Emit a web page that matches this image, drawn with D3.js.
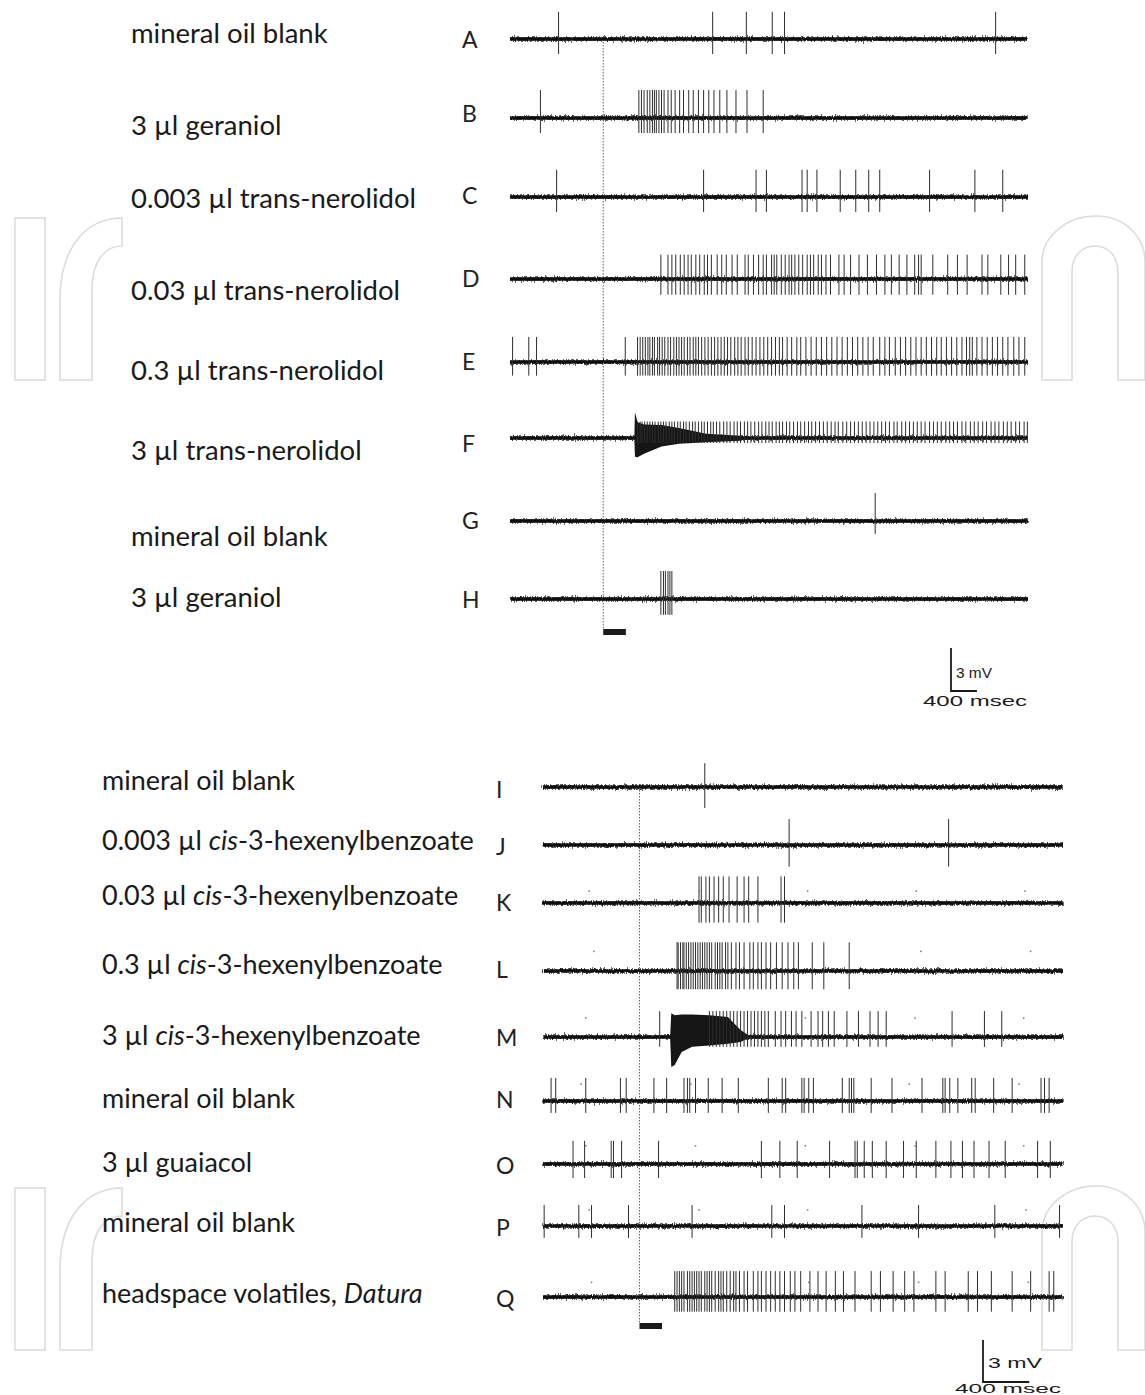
<!DOCTYPE html>
<html><head><meta charset="utf-8">
<script src="https://cdn.jsdelivr.net/npm/d3@7"></script>
<style>body{margin:0;background:#fff}svg{display:block}</style>
</head><body>
<svg id="chart" width="1145" height="1395"></svg>
<script>
// ---------------- DATA ----------------
const topIds = ["A","B","C","D","E","F","G","H"];
const topLabels = ["mineral oil blank","3 µl geraniol","0.003 µl trans-nerolidol","0.03 µl trans-nerolidol",
  "0.3 µl trans-nerolidol","3 µl trans-nerolidol","mineral oil blank","3 µl geraniol"];
const bottomIds = ["I","J","K","L","M","N","O","P","Q"];
const bottomLabels = ["mineral oil blank","0.003 µl *cis*-3-hexenylbenzoate","0.03 µl *cis*-3-hexenylbenzoate",
  "0.3 µl *cis*-3-hexenylbenzoate","3 µl *cis*-3-hexenylbenzoate","mineral oil blank","3 µl guaiacol",
  "mineral oil blank","headspace volatiles, *Datura*"];

const topDuration = 8.0;      // s shown in upper panel
const bottomDuration = 4.5;   // s shown in lower panel
const stimTop = [1.44, 1.79];
const stimBottom = [0.835, 1.03];
const scaleBarMv = 3;
const scaleBarMs = 400;

// spike times (s)
const spikesA = [0.75,3.13,3.65,4.05,4.24,7.50];
const spikesB = [0.47,1.99,2.03,2.07,2.12,2.16,2.20,2.23,2.26,2.30,2.34,2.38,2.44,2.49,2.55,2.62,2.68,2.76,2.83,2.91,2.99,3.07,3.15,3.24,3.35,3.49,3.66,3.91];
const spikesC = [0.72,2.99,3.80,3.96,4.51,4.59,4.74,5.10,5.34,5.54,5.71,6.48,7.18,7.61];
const spikesD = [2.33,2.44,2.50,2.56,2.63,2.69,2.75,2.80,2.87,2.93,3.00,3.05,3.11,3.20,3.27,3.34,3.43,3.51,3.63,3.68,3.76,3.84,3.91,3.96,4.04,4.08,4.12,4.19,4.25,4.31,4.35,4.40,4.46,4.52,4.59,4.64,4.69,4.76,4.81,4.88,4.95,5.08,5.16,5.26,5.39,5.52,5.66,5.79,5.89,6.01,6.13,6.25,6.31,6.35,6.53,6.76,6.91,7.06,7.29,7.38,7.58,7.70,7.81,7.95];
const spikesE = [0.04,0.29,0.41,1.78,1.97,2.01,2.05,2.09,2.13,2.16,2.20,2.23,2.28,2.31,2.35,2.39,2.44,2.48,2.53,2.57,2.61,2.65,2.69,2.74,2.78,2.83,2.87,2.91,2.96,3.01,3.06,3.11,3.16,3.21,3.26,3.31,3.36,3.41,3.47,3.52,3.57,3.63,3.68,3.74,3.80,3.86,3.92,3.98,4.04,4.10,4.16,4.21,4.28,4.35,4.43,4.49,4.57,4.65,4.73,4.81,4.89,4.97,5.05,5.13,5.21,5.29,5.37,5.45,5.53,5.61,5.71,5.79,5.86,5.95,6.03,6.11,6.19,6.27,6.35,6.43,6.51,6.59,6.66,6.74,6.82,6.90,6.98,7.05,7.10,7.14,7.21,7.29,7.37,7.45,7.53,7.61,7.69,7.78,7.86,7.95];
const spikesF = [1.97,2.01,2.04,2.08,2.12,2.16,2.20,2.24,2.29,2.33,2.37,2.41,2.46,2.50,2.54,2.59,2.63,2.68,2.72,2.77,2.82,2.86,2.91,2.96,3.00,3.05,3.10,3.14,3.19,3.24,3.30,3.35,3.40,3.46,3.51,3.56,3.62,3.67,3.72,3.78,3.84,3.89,3.95,4.00,4.05,4.11,4.16,4.21,4.27,4.32,4.38,4.44,4.49,4.55,4.61,4.66,4.72,4.78,4.84,4.90,4.96,5.02,5.07,5.14,5.20,5.26,5.32,5.38,5.44,5.50,5.56,5.62,5.68,5.74,5.80,5.86,5.93,5.98,6.05,6.11,6.17,6.23,6.29,6.35,6.41,6.48,6.54,6.60,6.66,6.73,6.79,6.85,6.91,6.98,7.04,7.11,7.17,7.23,7.30,7.36,7.43,7.49,7.55,7.62,7.68,7.74,7.81,7.87,7.94,7.99];
const spikesG = [5.64];
const spikesH = [2.33,2.37,2.40,2.44,2.47,2.50];

const spikesI = [1.40];
const spikesJ = [2.13,3.51];
const spikesK = [1.35,1.37,1.41,1.44,1.48,1.52,1.56,1.61,1.68,1.74,1.78,1.86,2.06,2.09];
const spikesL = [1.16,1.17,1.19,1.21,1.22,1.24,1.26,1.28,1.30,1.32,1.34,1.36,1.38,1.40,1.42,1.44,1.46,1.49,1.51,1.53,1.55,1.58,1.60,1.63,1.67,1.70,1.74,1.79,1.82,1.86,1.89,1.93,1.97,2.02,2.07,2.12,2.17,2.21,2.33,2.43,2.65];
const spikesM = [1.01,1.44,1.47,1.50,1.53,1.56,1.59,1.62,1.65,1.68,1.71,1.74,1.77,1.80,1.83,1.86,1.89,1.92,1.95,2.01,2.06,2.10,2.15,2.19,2.24,2.32,2.38,2.42,2.47,2.52,2.63,2.73,2.83,2.90,2.97,3.54,3.82,3.97];
const spikesN = [0.07,0.11,0.37,0.67,0.72,0.96,1.07,1.22,1.25,1.27,1.32,1.43,1.55,1.69,1.95,2.07,2.10,2.24,2.26,2.30,2.34,2.59,2.65,2.67,2.69,2.84,3.02,3.28,3.46,3.48,3.52,3.59,3.71,3.74,3.90,4.06,4.31,4.34,4.38];
const spikesO = [0.26,0.36,0.59,0.61,0.68,1.00,1.89,2.05,2.20,2.48,2.70,2.72,2.78,2.85,2.97,3.12,3.23,3.40,3.53,3.63,3.73,3.86,4.00,4.28,4.39];
const spikesP = [0.01,0.31,0.42,0.74,1.29,1.98,2.09,2.76,3.25,3.91,4.47];
const spikesQ = [1.14,1.16,1.18,1.20,1.22,1.25,1.27,1.29,1.31,1.33,1.35,1.37,1.40,1.42,1.44,1.46,1.49,1.52,1.54,1.56,1.59,1.62,1.65,1.67,1.70,1.74,1.77,1.82,1.86,1.89,1.93,1.97,2.01,2.05,2.09,2.14,2.18,2.23,2.31,2.38,2.45,2.53,2.60,2.70,2.84,2.92,3.03,3.13,3.21,3.40,3.48,3.68,3.76,3.88,4.06,4.22,4.38,4.42];

// typical spike amplitude (mV) above / below baseline, per trace
const ampUpTop   = [1.90,1.95,1.90,1.70,1.75,1.15,1.95,1.95];
const ampDownTop = [1.05,1.05,1.05,1.10,0.95,0.35,0.90,1.10];
const ampUpBottom   = [1.70,1.85,1.90,2.05,1.85,1.65,1.65,1.50,1.85];
const ampDownBottom = [1.50,1.55,1.40,1.30,0.70,0.85,1.00,0.85,1.05];

// dense onset envelopes [t (s), up (mV), down (mV)]
const envelopeF = [[1.92,0,0],[1.93,1.8,1.3],[1.97,1.1,1.35],[2.07,0.95,1.1],[2.34,0.9,0.6],[2.61,0.7,0.4],[3.03,0.3,0.3],[3.56,0.15,0.2],[3.6,0,0]];
const envelopeM = [[1.10,0,0],[1.11,1.7,2.15],[1.14,1.55,2.0],[1.20,1.6,1.07],[1.29,1.6,0.7],[1.44,1.55,0.6],[1.60,1.43,0.48],[1.71,0.5,0.36],[1.80,0,0]];

// small timing dots in lower panel [times], height (mV)
const dotsK = [0.40,1.35,2.29,3.23,4.17];
const dotsL = [0.44,3.27,4.22];
const dotsM = [0.37,2.27,3.22,4.16];
const dotsN = [0.33,1.28,3.17,4.12];
const dotsO = [0.37,1.32,2.27,3.22,4.16];
const dotsP = [0.40,1.35,2.29,3.25,4.18];
const dotsQ = [0.42,2.30,3.25,4.20];
const dotHeights = [0,0,0.85,1.4,1.35,1.2,1.3,1.15,1.05];

// ---------------- LAYOUT ----------------
const svg = d3.select("#chart");
const labelFont = "Lato, 'Open Sans', sans-serif";
const ink = "#1a1a1a";

// texture filters for the recording noise on the baselines
const defs = svg.append("defs");
function jitterFilter(id, freq, scale, seed) {
  const f = defs.append("filter").attr("id", id).attr("filterUnits","userSpaceOnUse")
    .attr("x",0).attr("y",0).attr("width",1145).attr("height",1395);
  f.append("feTurbulence").attr("type","fractalNoise").attr("baseFrequency", freq)
    .attr("numOctaves",2).attr("seed",seed).attr("result","t");
  f.append("feDisplacementMap").attr("in","SourceGraphic").attr("in2","t")
    .attr("scale",scale).attr("xChannelSelector","R").attr("yChannelSelector","G");
}
jitterFilter("jitterWide", "1.1 0.05", 7, 7);
jitterFilter("jitterCore", "0.8 0.05", 3, 3);

const topSpikes = [spikesA,spikesB,spikesC,spikesD,spikesE,spikesF,spikesG,spikesH];
const bottomSpikes = [spikesI,spikesJ,spikesK,spikesL,spikesM,spikesN,spikesO,spikesP,spikesQ];
const bottomDots = [[],[],dotsK,dotsL,dotsM,dotsN,dotsO,dotsP,dotsQ];

const panels = [
  {ids: topIds, labels: topLabels, spikes: topSpikes, up: ampUpTop, down: ampDownTop,
   env: {F: envelopeF}, dots: null, dotH: null, labelSize: 27.5,
   x: d3.scaleLinear().domain([0, topDuration]).range([510, 1028]),
   mv: d3.scaleLinear().domain([0, scaleBarMv]).range([0, 43]),
   rowY: d3.scaleOrdinal().domain(topIds).range([39,118,197,279,362,438,521,599]),
   labelY: [43,135,208,300,380,460,546,607], labelX: 131,
   letterY: [48,122,204,287,370,452,529,608], letterX: 462,
   stim: stimTop, stimY: 629, bar: {x: 951, y: 691, mvText: [956,678,36,15], msText: [923,706,104,14]}},
  {ids: bottomIds, labels: bottomLabels, spikes: bottomSpikes, up: ampUpBottom, down: ampDownBottom,
   env: {M: envelopeM}, dots: bottomDots, dotH: dotHeights, labelSize: 27,
   x: d3.scaleLinear().domain([0, bottomDuration]).range([543, 1063]),
   mv: d3.scaleLinear().domain([0, scaleBarMv]).range([0, 42]),
   rowY: d3.scaleOrdinal().domain(bottomIds).range([787,845,903,971,1037,1101,1164,1226,1297]),
   labelY: [790,850,905,974,1045,1108,1172,1232,1303], labelX: 102,
   letterY: [798,855,911,978,1046,1108,1174,1236,1307], letterX: 496,
   stim: stimBottom, stimY: 1323, bar: {x: 983, y: 1382, mvText: [988,1368,54,15], msText: [955,1392.5,106,12]}}
];

// watermark (faint outlines)
const wm = svg.append("g").attr("fill","none").attr("stroke","#dcdcdc").attr("stroke-width",1.6);
[0, 970].forEach(dy => {
  const g = wm.append("g").attr("transform", `translate(0,${dy})`);
  g.append("rect").attr("x",15).attr("y",218).attr("width",30).attr("height",162);
  g.append("path").attr("d","M60,380 L60,300 C60,245 88,218 122,218 L122,246 C104,246 92,262 92,290 L92,380 Z");
  g.append("path").attr("d","M1042,380 L1042,262 C1042,235 1068,216 1096,216 C1124,216 1145,236 1145,262 L1145,380 L1118,380 L1118,272 C1118,256 1108,246 1095,246 C1082,246 1072,256 1072,272 L1072,380 Z");
});

panels.forEach(p => {
  const g = svg.append("g");
  const x = p.x;
  const xEnd = x(x.domain()[1]);

  // dotted stimulus onset line
  g.append("line")
    .attr("x1", x(p.stim[0])).attr("x2", x(p.stim[0]))
    .attr("y1", p.rowY(p.ids[0])).attr("y2", p.stimY)
    .attr("stroke","#666").attr("stroke-width",1).attr("stroke-dasharray","1.5,1.5");

  // stimulus bar
  g.append("rect")
    .attr("x", x(p.stim[0])).attr("width", x(p.stim[1]) - x(p.stim[0]))
    .attr("y", p.stimY).attr("height", 6).attr("fill", ink);

  const haloG = g.append("g").attr("filter","url(#jitterWide)");
  const coreG = g.append("g").attr("filter","url(#jitterCore)");

  p.ids.forEach((id, i) => {
    const y0 = p.rowY(id);
    // baseline noise band
    haloG.append("line").attr("x1", x(0)).attr("x2", xEnd)
      .attr("y1", y0).attr("y2", y0).attr("stroke","#2a2a2a").attr("stroke-opacity",0.7).attr("stroke-width",4);
    coreG.append("line").attr("x1", x(0)).attr("x2", xEnd)
      .attr("y1", y0).attr("y2", y0).attr("stroke","#111").attr("stroke-width",3.4);

    const tg = g.append("g");
    // envelope
    if (p.env[id]) {
      const area = d3.area().x(d => x(d[0])).y0(d => y0 + p.mv(d[2])).y1(d => y0 - p.mv(d[1]));
      tg.append("path").datum(p.env[id]).attr("d", area).attr("fill","#151515");
    }
    // spikes
    tg.selectAll("line.spike").data(p.spikes[i]).join("line").attr("class","spike")
      .attr("x1", d => x(d)).attr("x2", d => x(d))
      .attr("y1", y0 - p.mv(p.up[i])).attr("y2", y0 + p.mv(p.down[i]))
      .attr("stroke","#2e2e2e").attr("stroke-width",1);
    // dots
    if (p.dots && p.dots[i].length) {
      tg.selectAll("rect.dot").data(p.dots[i]).join("rect").attr("class","dot")
        .attr("x", d => x(d) - 0.75).attr("y", y0 - p.mv(p.dotH[i]) - 0.75)
        .attr("width",1.5).attr("height",1.5).attr("fill","#777");
    }
    // label with italic segments
    const txt = g.append("text").attr("x", p.labelX).attr("y", p.labelY[i])
      .attr("font-family", labelFont).attr("font-size", p.labelSize).attr("fill", ink);
    p.labels[i].split("*").forEach((seg, k) => {
      if (seg.length) txt.append("tspan").text(seg).attr("font-style", k % 2 ? "italic" : "normal");
    });
    // letter
    g.append("text").attr("x", p.letterX).attr("y", p.letterY[i])
      .attr("font-family", labelFont).attr("font-size", 23).attr("fill", "#222").text(id);
  });

  // scale bar
  const b = p.bar;
  const lenX = x(scaleBarMs / 1000) - x(0);
  g.append("path").attr("d", `M${b.x},${b.y - p.mv(scaleBarMv)} V${b.y} H${b.x + lenX}`)
    .attr("fill","none").attr("stroke", ink).attr("stroke-width",1.8);
  g.append("text").attr("x", b.mvText[0]).attr("y", b.mvText[1])
    .attr("font-family","'Liberation Sans', Arial, sans-serif").attr("font-size", b.mvText[3])
    .attr("textLength", b.mvText[2]).attr("lengthAdjust","spacingAndGlyphs").attr("fill", ink)
    .text(`${scaleBarMv} mV`);
  g.append("text").attr("x", b.msText[0]).attr("y", b.msText[1])
    .attr("font-family","'Liberation Sans', Arial, sans-serif").attr("font-size", b.msText[3])
    .attr("textLength", b.msText[2]).attr("lengthAdjust","spacingAndGlyphs").attr("fill", ink)
    .text(`${scaleBarMs} msec`);
});
</script>
</body></html>
